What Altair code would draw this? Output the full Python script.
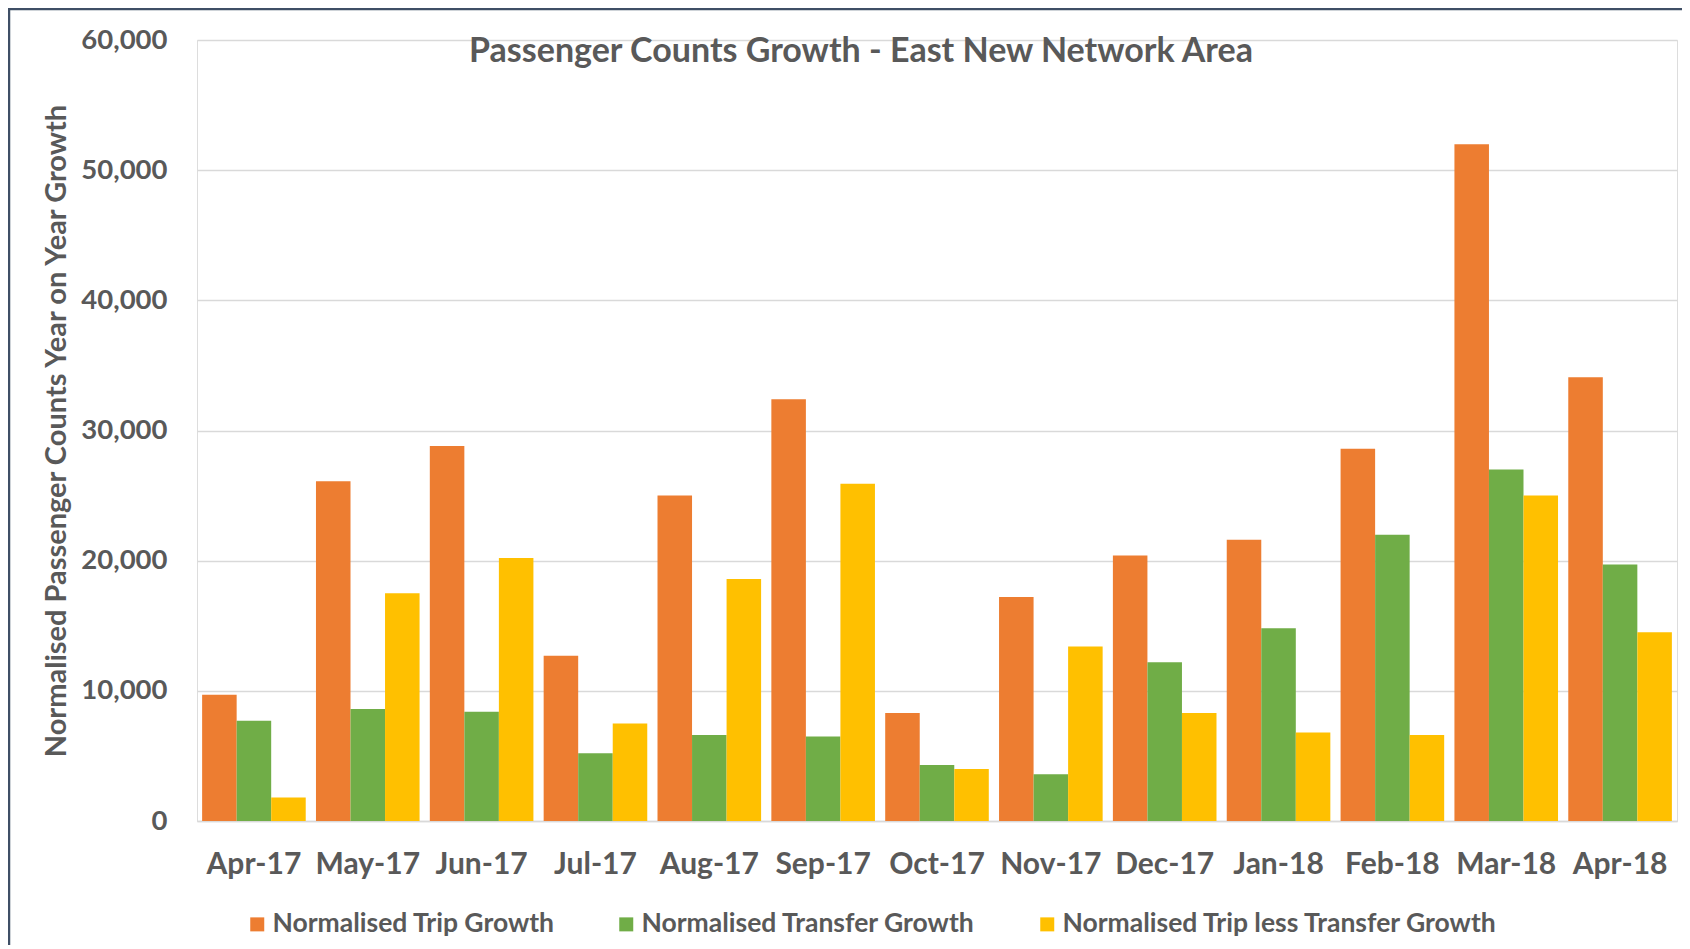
import altair as alt
import pandas as pd

months = ["Apr-17", "May-17", "Jun-17", "Jul-17", "Aug-17", "Sep-17", "Oct-17",
          "Nov-17", "Dec-17", "Jan-18", "Feb-18", "Mar-18", "Apr-18"]
trip = [9700, 26100, 28800, 12700, 25000, 32400, 8300, 17200, 20400, 21600, 28600, 52000, 34100]
transfer = [7700, 8600, 8400, 5200, 6600, 6500, 4300, 3600, 12200, 14800, 22000, 27000, 19700]
trip_less = [1800, 17500, 20200, 7500, 18600, 25900, 4000, 13400, 8300, 6800, 6600, 25000, 14500]
series = ["Normalised Trip Growth", "Normalised Transfer Growth",
          "Normalised Trip less Transfer Growth"]
colors = ["#ED7D31", "#70AD47", "#FFC000"]
y_ticks = [0, 10000, 20000, 30000, 40000, 50000, 60000]
chart_title = "Passenger Counts Growth - East New Network Area"

rows = []
for name, vals in zip(series, [trip, transfer, trip_less]):
    for m, v in zip(months, vals):
        rows.append({"month": m, "series": name, "value": v})
df = pd.DataFrame(rows)

W, H = 1480, 781
FONT = "Lato"
GREY = "#595959"

bars = alt.Chart(df).mark_bar().encode(
    x=alt.X("month:N", sort=months,
            scale=alt.Scale(paddingInner=0.09, paddingOuter=0.045),
            axis=alt.Axis(title=None, labelAngle=0, labelFont=FONT, labelFontSize=30,
                          labelFontWeight="bold", labelColor=GREY, labelPadding=28,
                          ticks=False, domainColor="#D9D9D9", domainWidth=1.5, grid=False)),
    xOffset=alt.XOffset("series:N", sort=series,
                        scale=alt.Scale(paddingInner=0, paddingOuter=0)),
    y=alt.Y("value:Q", scale=alt.Scale(domain=[0, 60000], nice=False),
            axis=alt.Axis(values=y_ticks, format=",d", ticks=False, domain=False,
                          labelFont=FONT, labelFontSize=27.5, labelFontWeight="bold",
                          labelColor=GREY, labelPadding=30,
                          gridColor="#D9D9D9", gridWidth=1.5,
                          title="Normalised Passenger Counts Year on Year Growth",
                          titleFont=FONT, titleFontSize=29, titleFontWeight="bold",
                          titleColor=GREY, titleAngle=-90, titleX=-141, titleY=H / 2,
                          titleAlign="center", titleBaseline="middle")),
    color=alt.Color("series:N", sort=series,
                    scale=alt.Scale(domain=series, range=colors),
                    legend=alt.Legend(title=None, orient="none", direction="horizontal",
                                      legendX=47, legendY=871,
                                      labelFont=FONT, labelFontSize=26.5,
                                      labelFontWeight="bold", labelColor=GREY,
                                      symbolType="square", symbolSize=196,
                                      symbolStrokeWidth=0, labelOffset=2,
                                      columnPadding=58, labelLimit=600)),
)

title_mark = alt.Chart(alt.Data(values=[{"t": chart_title}])).mark_text(
    font=FONT, fontSize=34, fontWeight="bold", color=GREY, align="center",
    baseline="middle"
).encode(text="t:N", x=alt.value(664), y=alt.value(12))

border = alt.Chart(alt.Data(values=[{"k": 1}])).mark_rule(
    color="#3F4F66", strokeWidth=2.5
).encode(x=alt.value(-188), y=alt.value(-31), y2=alt.value(1000))

border_top = alt.Chart(alt.Data(values=[{"k": 1}])).mark_rule(
    color="#3F4F66", strokeWidth=2.5
).encode(x=alt.value(-189), x2=alt.value(1700), y=alt.value(-31))

chart = alt.layer(bars, title_mark, border, border_top).properties(
    width=W, height=H,
    autosize=alt.AutoSizeParams(type="none"),
    padding={"left": 189, "top": 32, "right": 5, "bottom": 124},
).configure_view(stroke=None).configure(background="white")

chart.save("out.html", embed_options={"renderer": "svg", "actions": False})
